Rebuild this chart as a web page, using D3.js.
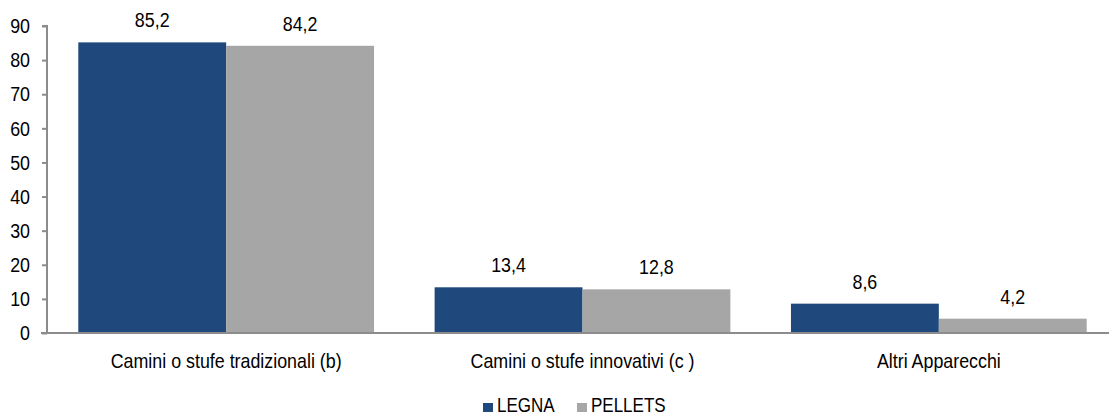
<!DOCTYPE html>
<html>
<head>
<meta charset="utf-8">
<script src="https://cdn.jsdelivr.net/npm/d3@7"></script>
<style>
  html, body { margin: 0; padding: 0; background: #fff; }
  svg text { font-family: "Liberation Sans Narrow", "Arial Narrow", "Liberation Sans", Arial, sans-serif; fill: #000; }
</style>
</head>
<body>
<svg id="chart" width="1109" height="417"></svg>
<script>
// Categories, series and tick values
const categories = ["Camini o stufe tradizionali (b)", "Camini o stufe innovativi (c )", "Altri Apparecchi"];
const seriesNames = ["LEGNA", "PELLETS"];
const legna = [85.2, 13.4, 8.6];
const pellets = [84.2, 12.8, 4.2];
const yTicks = [0, 10, 20, 30, 40, 50, 60, 70, 80, 90];
const colors = ["#1F497D", "#A6A6A6"];

const seriesValues = [legna, pellets];
const rows = categories.map((c, i) => ({
  cat: c,
  vals: seriesNames.map((s, j) => ({ key: s, value: seriesValues[j][i], color: colors[j] }))
}));

const svg = d3.select("#chart");
const fmt = v => String(v).replace(".", ",");

// Condensed lettering: squeeze each label horizontally around its own anchor point
const squeeze = 0.85;
function narrow(sel) {
  sel.each(function () {
    const x = +this.getAttribute("x") || 0;
    this.setAttribute("transform", `translate(${x * (1 - squeeze)},0) scale(${squeeze},1)`);
  });
}

const x0 = d3.scaleBand().domain(categories).range([48, 1117]).paddingInner(0.17).paddingOuter(0.085);
const x1 = d3.scaleBand().domain(seriesNames).range([0, x0.bandwidth()]);
const y = d3.scaleLinear().domain([0, 90]).range([333, 26]);

// Bars
const groups = svg.append("g").selectAll("g").data(rows).join("g")
  .attr("transform", d => `translate(${x0(d.cat)},0)`);

groups.selectAll("rect").data(d => d.vals).join("rect")
  .attr("x", d => x1(d.key))
  .attr("y", d => y(d.value))
  .attr("width", x1.bandwidth())
  .attr("height", d => y(0) - y(d.value))
  .attr("fill", d => d.color);

// Value labels
groups.selectAll("text.val").data(d => d.vals).join("text")
  .attr("class", "val")
  .attr("x", d => x1(d.key) + x1.bandwidth() / 2)
  .attr("y", d => y(d.value) - 15)
  .attr("text-anchor", "middle")
  .style("font-size", "21px")
  .text(d => fmt(d.value))
  .call(narrow);

// Y axis
const yAxis = d3.axisLeft(y).tickValues(yTicks).tickSize(5).tickPadding(12);
const yg = svg.append("g").attr("transform", "translate(47,0)").call(yAxis);
yg.select(".domain").attr("stroke", "#8c8c8c").attr("stroke-width", 2).attr("d", "M-5,26H0V333");
yg.selectAll(".tick line").attr("stroke", "#8c8c8c").attr("stroke-width", 2);
yg.selectAll(".tick text").style("font-size", "21px").attr("fill", "#000").call(narrow);

// X axis baseline and category labels
const xAxis = d3.axisBottom(x0).tickSize(0).tickPadding(20);
const xg = svg.append("g").attr("transform", "translate(0,333)").call(xAxis);
xg.select(".domain").attr("stroke", "#8c8c8c").attr("stroke-width", 2).attr("d", "M41,0H1109");
xg.selectAll(".tick text").style("font-size", "21px").attr("fill", "#000").attr("dy", "0.71em").call(narrow);

// Legend
const legend = svg.append("g").attr("transform", "translate(483,403)");
const items = [{ name: seriesNames[0], color: colors[0], dx: 0 }, { name: seriesNames[1], color: colors[1], dx: 94 }];
const li = legend.selectAll("g").data(items).join("g").attr("transform", d => `translate(${d.dx},0)`);
li.append("rect").attr("width", 10).attr("height", 9).attr("fill", d => d.color);
li.append("text").attr("x", 14).attr("y", 2).attr("dy", "0.35em").style("font-size", "20px").text(d => d.name).call(narrow);
</script>
</body>
</html>
